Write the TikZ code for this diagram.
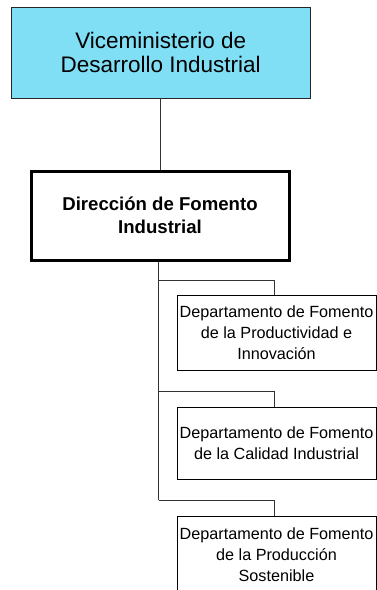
\documentclass[tikz,border=0pt]{standalone}
\usepackage{fontspec}
\setmainfont{Liberation Sans}
\definecolor{vicecyan}{RGB}{128,222,245}
\begin{document}
\begin{tikzpicture}[x=1pt,y=-1pt,
  topbox/.style={draw=black!85,line width=0.9pt,fill=vicecyan,minimum width=298.5pt,minimum height=91pt,inner sep=0pt,align=center,font=\fontsize{22.5}{24.5}\selectfont},
  dirbox/.style={draw=black,line width=3pt,fill=white,minimum width=258pt,minimum height=89pt,inner sep=0pt,align=center,font=\fontsize{18.6}{23.5}\selectfont\bfseries},
  deptbox/.style={draw=black,line width=1pt,fill=white,minimum width=199pt,inner sep=0pt,align=center,font=\fontsize{16.2}{21}\selectfont},
  conn/.style={draw=black!80,line width=0.9pt}]
\useasboundingbox (0,0) rectangle (377,590);
\clip (0,0) rectangle (377,590);
\node[topbox] (vice) at (160.75,52.5) {Viceministerio de\\Desarrollo Industrial};
\node[dirbox] (dir) at (160,215.5) {Dirección de Fomento\\Industrial};
\node[deptbox,minimum height=75pt] (d1) at (276.5,332.5) {Departamento de Fomento\\de la Productividad e\\Innovación};
\node[deptbox,minimum height=72pt] (d2) at (276.5,443) {Departamento de Fomento\\de la Calidad Industrial};
\node[deptbox,minimum height=78pt] (d3) at (276.5,555) {Departamento de Fomento\\de la Producción\\Sostenible};
\coordinate (b1) at (158.5,280);
\coordinate (b2) at (158.5,391);
\coordinate (b3) at (158.5,500);
\draw[conn] (vice.south -| 160.5,0) -- (dir.north -| 160.5,0);
\draw[conn] (dir.south -| b1) -- (b3);
\draw[conn] (b1) -- (274,280) -- (d1.north -| 274,0);
\draw[conn] (b2) -- (274,391) -- (d2.north -| 274,0);
\draw[conn] (b3) -- (274,500) -- (d3.north -| 274,0);
\end{tikzpicture}
\end{document}
